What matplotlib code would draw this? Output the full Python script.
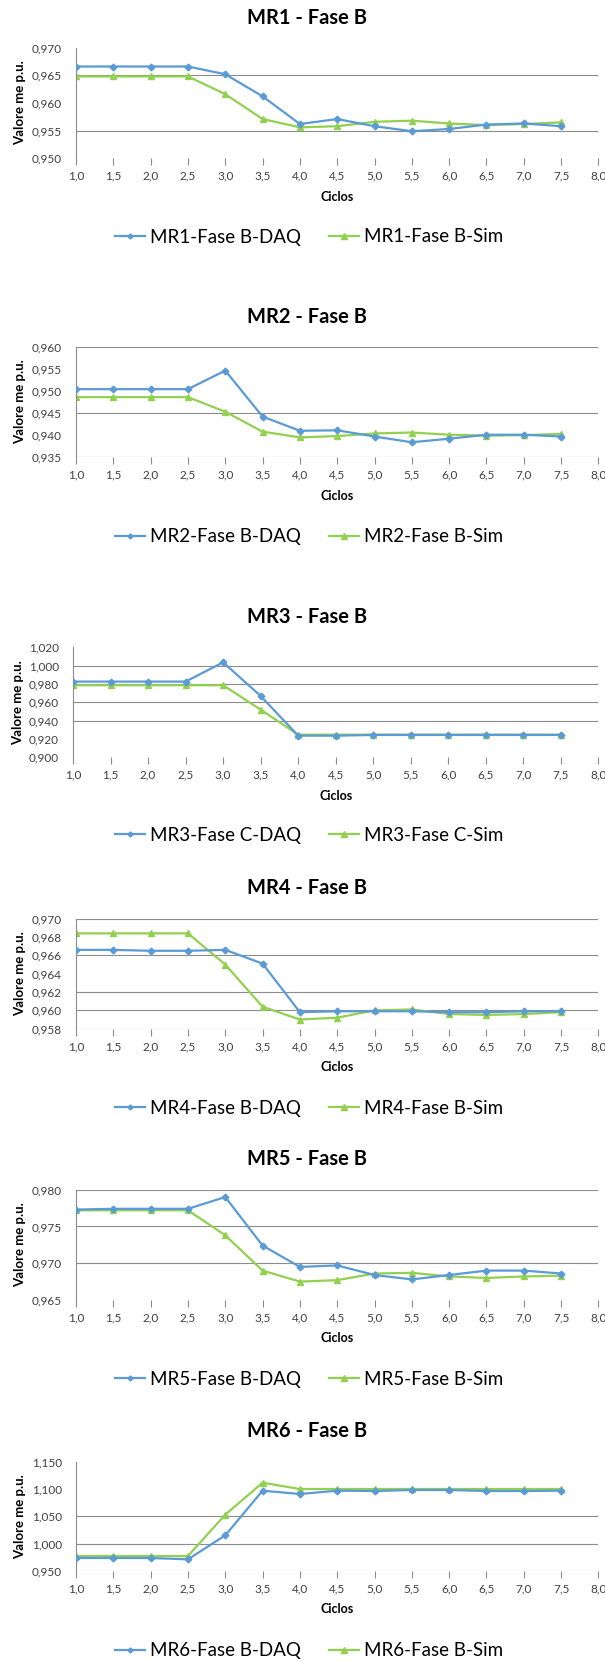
import matplotlib
matplotlib.use("Agg")
import matplotlib.pyplot as plt
import numpy as np

plt.rcParams['font.family'] = ['Lato', 'DejaVu Sans']

W, H = 605, 1662

ciclos = [1.0, 1.5, 2.0, 2.5, 3.0, 3.5, 4.0, 4.5, 5.0, 5.5, 6.0, 6.5, 7.0, 7.5]
x_ticks = [1.0, 1.5, 2.0, 2.5, 3.0, 3.5, 4.0, 4.5, 5.0, 5.5, 6.0, 6.5, 7.0, 7.5, 8.0]

titles = ["MR1 - Fase B", "MR2 - Fase B", "MR3 - Fase B",
          "MR4 - Fase B", "MR5 - Fase B", "MR6 - Fase B"]
daq_labels = ["MR1-Fase B-DAQ", "MR2-Fase B-DAQ", "MR3-Fase C-DAQ",
              "MR4-Fase B-DAQ", "MR5-Fase B-DAQ", "MR6-Fase B-DAQ"]
sim_labels = ["MR1-Fase B-Sim", "MR2-Fase B-Sim", "MR3-Fase C-Sim",
              "MR4-Fase B-Sim", "MR5-Fase B-Sim", "MR6-Fase B-Sim"]

mr1_daq = [0.9666, 0.9666, 0.9666, 0.9666, 0.9652, 0.9612, 0.9562, 0.9571, 0.9558, 0.9549, 0.9553, 0.9561, 0.9563, 0.9558]
mr1_sim = [0.9648, 0.9648, 0.9648, 0.9648, 0.9616, 0.9571, 0.9556, 0.9558, 0.9566, 0.9568, 0.9563, 0.9560, 0.9562, 0.9565]

mr2_daq = [0.9504, 0.9504, 0.9504, 0.9504, 0.9546, 0.9442, 0.9410, 0.9411, 0.9397, 0.9384, 0.9392, 0.9401, 0.9401, 0.9397]
mr2_sim = [0.9486, 0.9486, 0.9486, 0.9486, 0.9453, 0.9408, 0.9395, 0.9398, 0.9404, 0.9406, 0.9401, 0.9399, 0.9400, 0.9403]

mr3_daq = [0.9826, 0.9826, 0.9826, 0.9826, 1.0036, 0.9669, 0.9236, 0.9236, 0.9244, 0.9244, 0.9244, 0.9244, 0.9244, 0.9244]
mr3_sim = [0.9786, 0.9786, 0.9786, 0.9786, 0.9786, 0.9520, 0.9247, 0.9247, 0.9247, 0.9247, 0.9247, 0.9247, 0.9247, 0.9247]

mr4_daq = [0.9666, 0.9666, 0.9665, 0.9665, 0.9666, 0.9651, 0.9598, 0.9599, 0.9599, 0.9599, 0.9598, 0.9598, 0.9599, 0.9599]
mr4_sim = [0.9684, 0.9684, 0.9684, 0.9684, 0.9650, 0.9604, 0.9590, 0.9592, 0.9600, 0.9601, 0.9596, 0.9595, 0.9596, 0.9598]

mr5_daq = [0.9773, 0.9774, 0.9774, 0.9774, 0.9790, 0.9724, 0.9695, 0.9697, 0.9684, 0.9678, 0.9684, 0.9690, 0.9690, 0.9686]
mr5_sim = [0.9772, 0.9772, 0.9772, 0.9772, 0.9738, 0.9690, 0.9675, 0.9677, 0.9686, 0.9687, 0.9682, 0.9680, 0.9682, 0.9683]

mr6_daq = [0.9738, 0.9738, 0.9738, 0.9713, 1.0152, 1.0970, 1.0909, 1.0970, 1.0963, 1.0982, 1.0982, 1.0963, 1.0963, 1.0970]
mr6_sim = [0.9774, 0.9774, 0.9774, 0.9774, 1.0531, 1.1116, 1.1000, 1.1000, 1.1000, 1.1000, 1.1000, 1.1000, 1.1000, 1.1000]

daq_series = [mr1_daq, mr2_daq, mr3_daq, mr4_daq, mr5_daq, mr6_daq]
sim_series = [mr1_sim, mr2_sim, mr3_sim, mr4_sim, mr5_sim, mr6_sim]

# y axis: (min, max, step)
y_ranges = [(0.950, 0.970, 0.005), (0.935, 0.960, 0.005), (0.900, 1.020, 0.020),
            (0.958, 0.970, 0.002), (0.965, 0.980, 0.005), (0.950, 1.150, 0.050)]
# horizontal gridlines visible in the picture
grid_levels = [[0.965, 0.955],
               [0.960, 0.945, 0.935],
               [1.000, 0.980, 0.960, 0.940],
               [0.970, 0.966, 0.962, 0.960, 0.958],
               [0.980, 0.975, 0.970],
               [1.050, 1.000, 0.950]]

# layout in pixels: (left, top, bottom, title_y, xlabel_y, legend_y, ylabel_x)
layout = [(76, 47.7, 158.3, 18.3, 196.7, 237.0, 19.6),
          (76, 346.7, 457.3, 317.3, 496.0, 536.7, 19.6),
          (73, 647.3, 757.3, 616.7, 795.7, 835.5, 17.6),
          (76, 918.7, 1028.7, 888.3, 1067.3, 1108.3, 19.6),
          (76, 1189.7, 1300.0, 1159.3, 1338.3, 1379.3, 19.6),
          (76, 1461.7, 1571.0, 1430.7, 1609.3, 1650.7, 19.6)]
RIGHT = 598.4

BLUE = "#5B9BD5"
GREEN = "#92D050"
GRID = "#8C8C8C"
TXT = "#404040"

fig = plt.figure(figsize=(W / 100, H / 100), dpi=100)

for i in range(6):
    left, top, bottom, ty, xly, lgy, ylx = layout[i]
    ax = fig.add_axes([left / W, 1 - bottom / H, (RIGHT - left) / W, (bottom - top) / H])
    ymin, ymax, ystep = y_ranges[i]
    for g in grid_levels[i]:
        ax.axhline(g, color=GRID, lw=0.8, zorder=1)
    l1, = ax.plot(ciclos, daq_series[i], color=BLUE, lw=1.6, marker='D', ms=3.4,
                  label=daq_labels[i], zorder=3)
    l2, = ax.plot(ciclos, sim_series[i], color=GREEN, lw=1.6, marker='^', ms=5.0,
                  label=sim_labels[i], zorder=2)
    ax.set_xlim(1.0, 8.0)
    ax.set_ylim(ymin, ymax)
    ax.set_xticks(x_ticks)
    ax.set_xticklabels([f"{v:.1f}".replace('.', ',') for v in x_ticks])
    yt = np.round(np.arange(ymin, ymax + ystep / 2, ystep), 3)
    ax.set_yticks(yt)
    ax.set_yticklabels([f"{v:.3f}".replace('.', ',') for v in yt])
    for s in ['top', 'right', 'bottom']:
        ax.spines[s].set_visible(False)
    ax.spines['left'].set_color(GRID)
    ax.spines['left'].set_linewidth(0.8)
    ax.tick_params(axis='y', length=0, pad=10, labelsize=8.5, labelcolor=TXT)
    ax.tick_params(axis='x', length=5, width=0.8, color=GRID, direction='out', pad=4,
                   labelsize=8.5, labelcolor=TXT)
    for lab in ax.get_xticklabels():
        lab.set_clip_on(False)

    fig.text(307 / W, 1 - ty / H, titles[i], ha='center', va='center',
             fontsize=14.5, fontweight='bold', color='black')
    fig.text((left + RIGHT) / 2 / W, 1 - xly / H, "Ciclos", ha='center', va='center',
             fontsize=9, fontweight='bold', color='black')
    fig.text(ylx / W, 1 - (top + bottom) / 2 / H, "Valore me p.u.", ha='center', va='center',
             rotation=90, fontsize=9.5, fontweight='bold', color='black')
    ax.legend(handles=[l1, l2], loc='center', bbox_to_anchor=(309 / W, 1 - lgy / H),
              bbox_transform=fig.transFigure, ncol=2, frameon=False, fontsize=13.5,
              handlelength=1.6, handletextpad=0.25, columnspacing=1.5, markerscale=0.75,
              labelcolor='black')

fig.savefig("out.png", dpi=100)
